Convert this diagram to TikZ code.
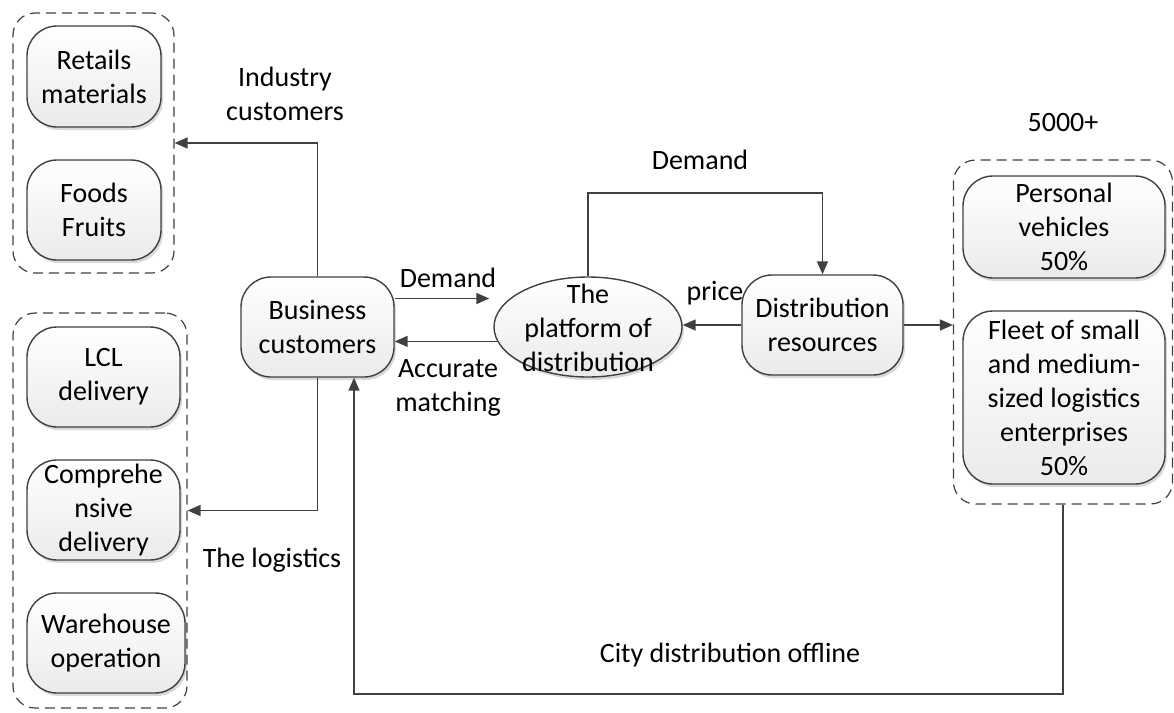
\documentclass[tikz,border=0pt]{standalone}
\usepackage{fontspec}
\setmainfont{Carlito}
\usetikzlibrary{arrows.meta,shapes.geometric,shadows}
\definecolor{ln}{HTML}{404040}
\tikzset{
  base/.style={font=\fontsize{28}{34}\selectfont, text=black},
  box/.style={base, draw=ln, line width=1.4pt, rounded corners=30pt, align=center,
    inner sep=0pt, top color=white, bottom color=black!8,
    drop shadow={shadow xshift=2pt, shadow yshift=-3pt, opacity=0.15, fill=black}},
  grp/.style={draw=ln, line width=1.2pt, dash pattern=on 10pt off 6pt, rounded corners=22pt, inner sep=0pt},
  lbl/.style={base, align=center, inner sep=0pt},
  conn/.style={draw=ln, line width=1.5pt},
  arr/.style={conn, -{Triangle[length=13pt,width=11pt]}}
}
\begin{document}
\begin{tikzpicture}[x=1pt,y=-1pt]
\useasboundingbox (0,0) rectangle (1174,712);
% groups
\node[grp, minimum width=161pt, minimum height=260pt] (grp1) at (93.5,143) {};
\node[grp, minimum width=174pt, minimum height=395pt] (grp2) at (100,510.5) {};
\node[grp, minimum width=219pt, minimum height=344pt] (grp3) at (1063,332) {};
% left boxes
\node[box, minimum width=134pt, minimum height=101pt] (ret) at (94,76.5) {Retails\\materials};
\node[box, minimum width=134pt, minimum height=100pt] (food) at (94,210) {Foods\\Fruits};
\node[box, minimum width=153pt, minimum height=100pt] (lcl) at (103.5,377) {LCL\\delivery};
\node[box, minimum width=153pt, minimum height=100pt] (comp) at (103.5,510) {Comprehe\\nsive\\delivery};
\node[box, minimum width=158pt, minimum height=100pt] (ware) at (106,643) {Warehouse\\operation};
% center
\node[base, ellipse, draw=ln, line width=1.4pt, top color=white, bottom color=black!8,
  drop shadow={shadow xshift=2pt, shadow yshift=-3pt, opacity=0.15, fill=black},
  minimum width=188pt, minimum height=100pt, inner sep=0pt] (plat) at (588,327) {};
\node[lbl] (platt) at (588,327.5) {The\\platform of\\distribution};
\node[box, minimum width=153pt, minimum height=100pt] (bus) at (317.5,327) {Business\\customers};
\node[box, minimum width=161pt, minimum height=100pt] (dist) at (822.5,325) {Distribution\\resources};
% right boxes
\node[box, minimum width=202pt, minimum height=102pt] (pv) at (1064,227) {Personal\\vehicles\\50\%};
\node[box, minimum width=202pt, minimum height=173pt] (fleet) at (1064,397.5) {Fleet of small\\and medium-\\sized logistics\\enterprises\\50\%};
% labels
\node[lbl] (lind) at (285,93.5) {Industry\\customers};
\node[lbl] (llog) at (272,560) {The logistics};
\node[lbl] (ldem) at (448,278) {Demand};
\node[lbl] (lacc) at (448,387.5) {Accurate\\matching};
\node[lbl] (lprice) at (715,293) {price};
\node[lbl] (ldem2) at (700,160) {Demand};
\node[lbl] (l5000) at (1063,123) {5000+};
\node[lbl] (lcity) at (730,655) {City distribution offline};
% coordinates
\coordinate (dtop) at (700,193);
\coordinate (cityc) at (354,694);
% connectors
\draw[arr] (bus.north) |- (grp1.east);
\draw[arr] (bus.south) |- (grp2.east);
\draw[arr, shorten >=4pt] (bus.east |- plat.160) -- (plat.160 -| plat.west);
\draw[arr] (plat.189) -- (plat.189 -| bus.east);
\draw[arr] (dist.west) -- (dist.west -| plat.east);
\draw[arr] (plat.north) |- (dtop) -| (dist.north);
\draw[arr] (dist.east) -- (dist.east -| grp3.west);
\draw[arr] (grp3.south) |- (cityc) -- (cityc |- bus.south);
\end{tikzpicture}
\end{document}
